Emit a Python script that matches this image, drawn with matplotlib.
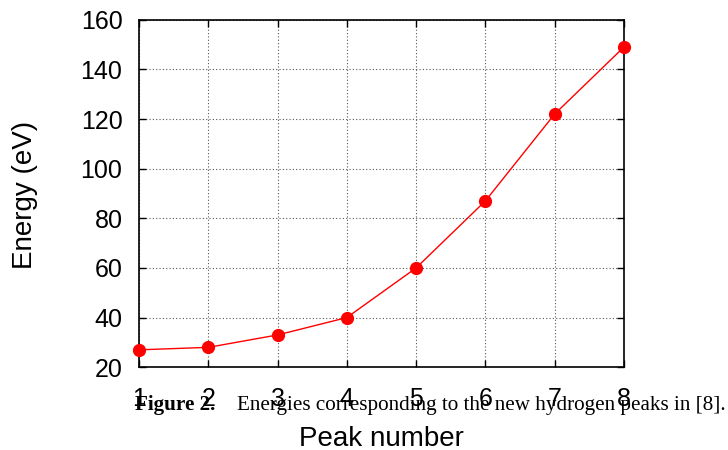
import numpy as np
import matplotlib.pyplot as plt

# peak number vs energy (eV)
peaks = [1, 2, 3, 4, 5, 6, 7, 8]
energy = [27, 28, 33, 40, 60, 87, 122, 149]
yticks = [20, 40, 60, 80, 100, 120, 140, 160]

plt.rcParams['font.family'] = ['Liberation Sans', 'DejaVu Sans']

fig = plt.figure(figsize=(7.28, 4.5), dpi=100)
ax = fig.add_axes([0.191, 0.184, 0.666, 0.772])

ax.plot(peaks, energy, color='#ff0000', lw=1.0, marker='o', ms=8.5,
        markeredgecolor='#ff0000', clip_on=False, zorder=3)

ax.set_xlim(1, 8)
ax.set_ylim(20, 160)
ax.set_xticks(peaks)
ax.set_yticks(yticks)
ax.grid(True, color='#555555', linestyle=(0, (1, 2)), linewidth=0.8)
ax.tick_params(direction='in', length=5, width=1, labelsize=18, pad=14,
               top=True, right=True)
ax.tick_params(axis='y', pad=12)
for s in ax.spines.values():
    s.set_linewidth(1.2)

# axis labels placed in figure pixels to follow the reference
fig.text(12 / 728, 1 - 195 / 450, 'Energy (eV)', rotation=90, fontsize=20,
         ha='left', va='center')
fig.text(381.5 / 728, 1 - 446 / 450, 'Peak number', fontsize=20,
         ha='center', va='baseline')

# caption overlaid from the source document
fig.text(135 / 728, 1 - 410 / 450, 'Figure 2.', family=['Liberation Serif'],
         weight='bold', fontsize=15.2, va='baseline')
fig.text(237 / 728, 1 - 410 / 450,
         'Energies corresponding to the new hydrogen peaks in [8].',
         family=['Liberation Serif'], fontsize=15.2, va='baseline')

fig.savefig('out.png', dpi=100)
